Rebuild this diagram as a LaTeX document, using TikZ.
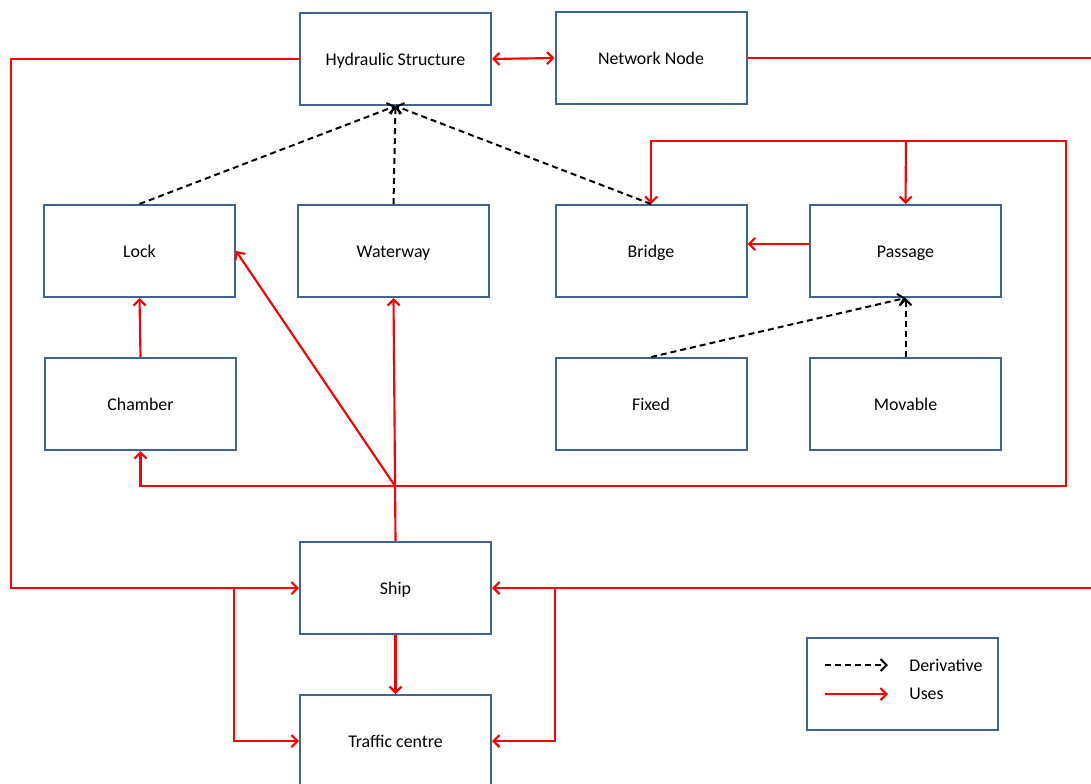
\documentclass[tikz,border=0pt]{standalone}
\usepackage{fontspec}
\setmainfont{Carlito}
\usetikzlibrary{arrows.meta}
\definecolor{boxblue}{HTML}{41648F}
\definecolor{usered}{HTML}{FF0000}
\tikzset{
  box/.style={draw=boxblue, line width=1.5pt, fill=white, rectangle, minimum width=143.25pt, minimum height=69pt, inner sep=0pt, text height=11pt, text depth=1.5pt, font=\fontsize{13.4}{15}\selectfont},
  uses/.style={draw=usered, line width=1.6pt, -{Straight Barb[length=4.5pt,width=9pt]}},
  usesline/.style={draw=usered, line width=1.6pt},
  deriv/.style={draw=black, line width=1.5pt, dash pattern=on 4.5pt off 3pt, -{Straight Barb[length=4.5pt,width=9pt]}},
  legtext/.style={anchor=west, inner sep=0pt, font=\fontsize{13.4}{15}\selectfont}
}
\begin{document}
\begin{tikzpicture}[x=0.75pt,y=-0.75pt]
\clip (0,0) rectangle (1091,783);
\useasboundingbox (0,0) rectangle (1091,783);
% nodes
\node[box] (hs) at (395.5,59) {Hydraulic Structure};
\node[box] (nn) at (651,58) {Network Node};
\node[box] (lock) at (139.5,251) {Lock};
\node[box] (ww) at (393.5,251) {Waterway};
\node[box] (bridge) at (651,251) {Bridge};
\node[box] (passage) at (905.5,251) {Passage};
\node[box] (chamber) at (140.5,404) {Chamber};
\node[box] (fixed) at (651,404) {Fixed};
\node[box] (movable) at (905.5,404) {Movable};
\node[box] (ship) at (395.5,588) {Ship};
\node[box] (tc) at (395.5,741) {Traffic centre};
\node[box] (legend) at (902,684) {};
% coordinates
\coordinate (lc) at (11,59);
\coordinate (lcb) at (11,588);
\coordinate (re1) at (1091,58);
\coordinate (re2) at (1091,588);
\coordinate (j) at (395,486);
\coordinate (jr) at (1066,486);
\coordinate (tr) at (1066,141);
\coordinate (tl) at (651,141);
\coordinate (tp) at (906,141);
\coordinate (bl) at (234,588);
\coordinate (br) at (555,588);
% derivative
\draw[deriv] (lock.north) -- (hs.south);
\draw[deriv] (ww.north) -- (hs.south);
\draw[deriv] (bridge.north) -- (hs.south);
\draw[deriv] (fixed.north) -- (passage.south);
\draw[deriv] (movable.north) -- (passage.south);
% uses
\draw[uses, {Straight Barb[length=4.5pt,width=9pt]}-{Straight Barb[length=4.5pt,width=9pt]}] (hs.east) -- (nn.west);
\draw[uses] (hs.west) -- (lc) -- (lcb) -- (ship.west);
\draw[usesline] (nn.east) -- (re1);
\draw[uses] (re2) -- (ship.east);
\draw[uses] (ship.north) -- (ww.south);
\draw[uses] (j) -- (lock.east);
\draw[uses] (j) -| (chamber.south);
\draw[uses] (j) -- (jr) -- (tr) -- (tl) -- (bridge.north);
\draw[uses] (tp) -- (passage.north);
\draw[uses] ([yshift=5.25pt]passage.west) -- ([yshift=5.25pt]bridge.east);
\draw[uses] (chamber.north) -- (lock.south);
\draw[uses] (ship.south) -- (tc.north);
\draw[uses] (bl) |- (tc.west);
\draw[uses] (br) |- (tc.east);
% legend
\coordinate (l1a) at (825,665);
\coordinate (l1b) at (888,665);
\coordinate (l2a) at (825,694);
\coordinate (l2b) at (888,694);
\draw[deriv] (l1a) -- (l1b);
\draw[uses] (l2a) -- (l2b);
\node[legtext] (ld) at (909,665) {Derivative};
\node[legtext] (lu) at (909,694) {Uses};
\end{tikzpicture}
\end{document}
